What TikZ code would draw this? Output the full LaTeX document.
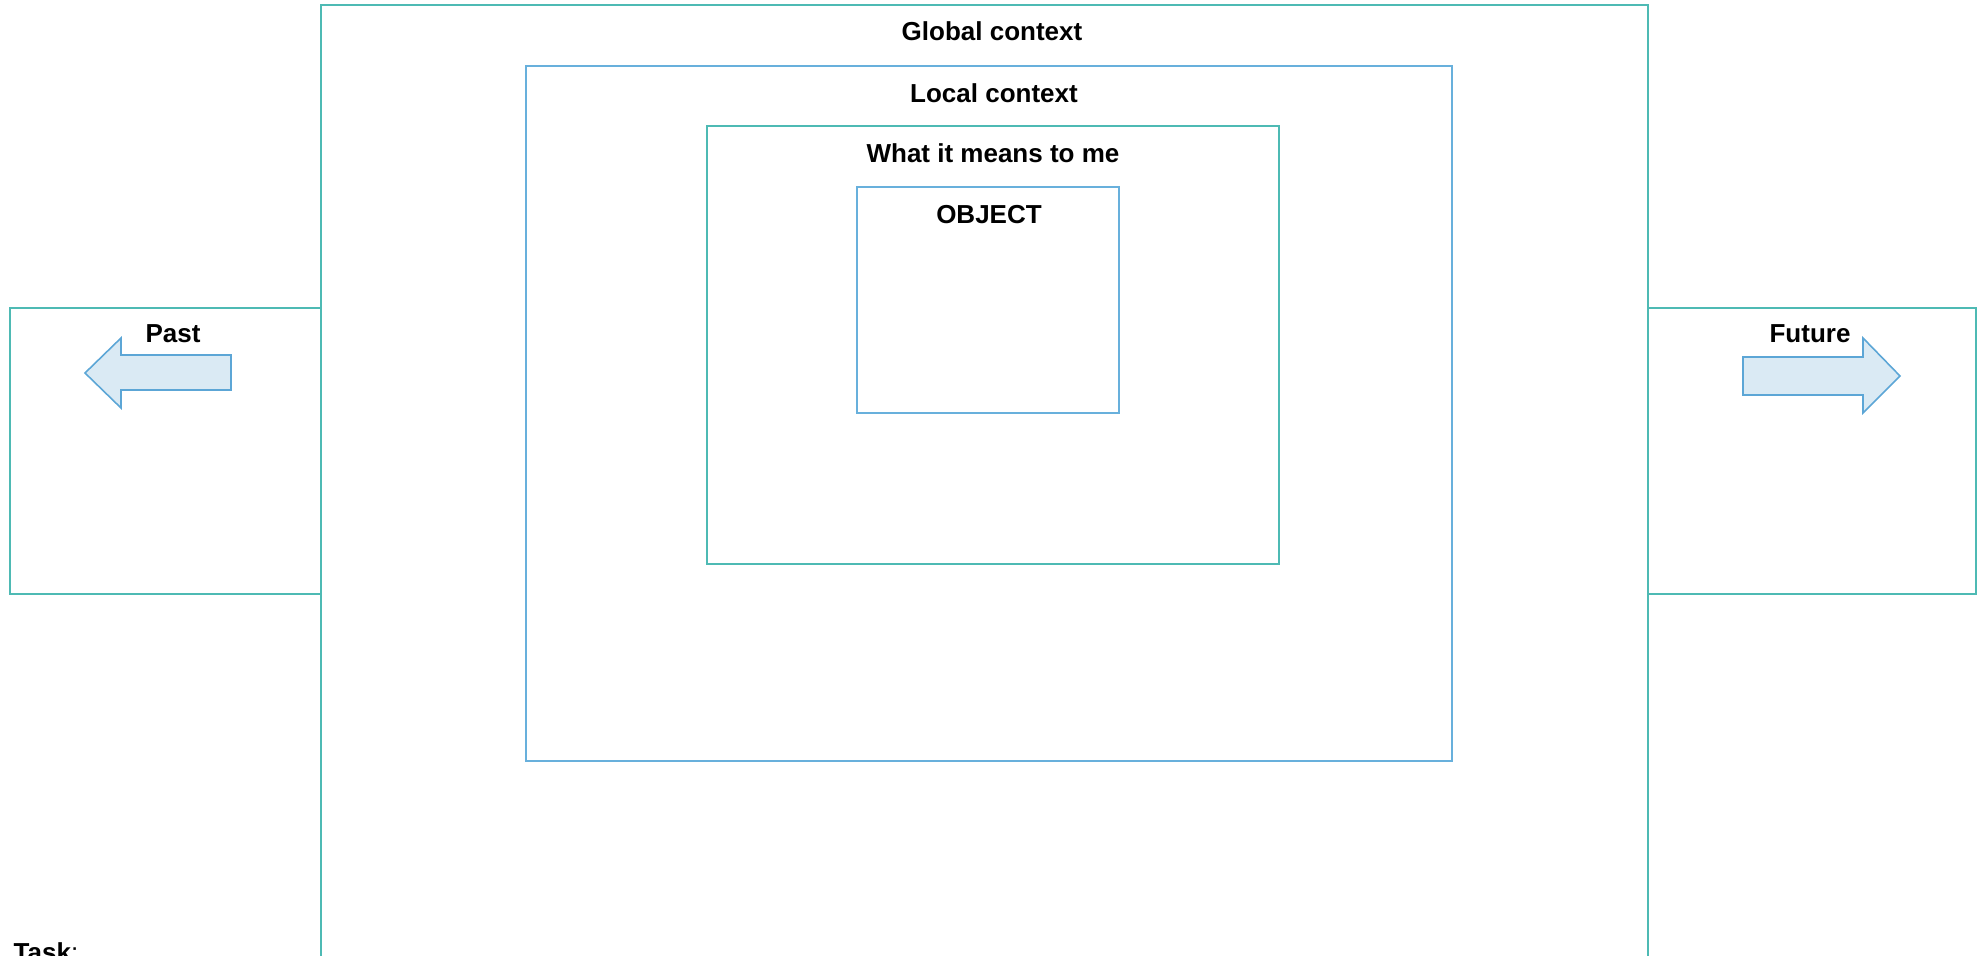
\documentclass[tikz,border=0pt]{standalone}
\usepackage{fontspec}
\setmainfont{Liberation Sans}
\usepackage{xcolor}
\usepackage{tikz}
\usetikzlibrary{calc}

\definecolor{tealline}{RGB}{78,186,180}
\definecolor{blueline}{RGB}{104,176,220}
\definecolor{arrowfill}{RGB}{218,234,244}
\definecolor{arrowline}{RGB}{92,166,214}

\begin{document}
\begin{tikzpicture}[scale=1.0, >=stealth,
    tealbox/.style={draw=tealline, line width=0.55pt},
    bluebox/.style={draw=blueline, line width=0.55pt},
    bigarrow/.style={draw=arrowline, fill=arrowfill, line width=0.45pt},
    title/.style={font=\fontsize{7.4}{9}\selectfont\bfseries, anchor=base, inner sep=0pt}]
    \clip (0,0) rectangle (19.85,-9.56);

    % nested context boxes
    \draw[tealbox] (3.21,-0.05) rectangle (16.48,-9.80);
    \draw[bluebox] (5.26,-0.66) rectangle (14.52,-7.61);
    \draw[tealbox] (7.07,-1.26) rectangle (12.79,-5.64);
    \draw[bluebox] (8.57,-1.87) rectangle (11.19,-4.13);

    % side boxes
    \draw[tealbox] (0.10,-3.08) rectangle (3.21,-5.94);
    \draw[tealbox] (16.48,-3.08) rectangle (19.76,-5.94);

    \node[title] (global) at (9.92,-0.41) {Global context};
    \node[title] (local) at (9.94,-1.03) {Local context};
    \node[title] (meaning) at (9.93,-1.63) {What it means to me};
    \node[title] (object) at (9.89,-2.24) {OBJECT};
    \node[title] (past) at (1.73,-3.43) {Past};
    \node[title] (future) at (18.10,-3.43) {Future};

    % arrows
    \draw[bigarrow] (0.85,-3.73) -- (1.21,-3.38) -- (1.21,-3.55) -- (2.31,-3.55)
        -- (2.31,-3.90) -- (1.21,-3.90) -- (1.21,-4.08) -- cycle;
    \draw[bigarrow] (19.00,-3.76) -- (18.63,-3.38) -- (18.63,-3.57) -- (17.43,-3.57)
        -- (17.43,-3.95) -- (18.63,-3.95) -- (18.63,-4.13) -- cycle;

    \node[font=\fontsize{7.4}{9}\selectfont, anchor=base west, inner sep=0pt] (task)
        at (0.13,-9.62) {\textbf{Task}:};
\end{tikzpicture}
\end{document}
